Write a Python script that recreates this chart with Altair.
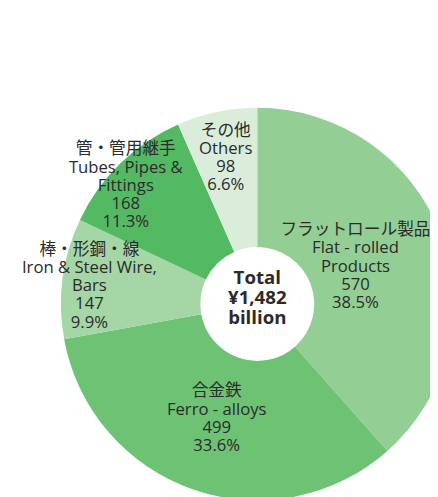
import altair as alt
import pandas as pd

# ---- data ----
categories = ["flat", "ferro", "bars", "tubes", "others"]
names_ja = ["フラットロール製品", "合金鉄", "棒・形鋼・線", "管・管用継手", "その他"]
names_en = ["Flat - rolled\nProducts", "Ferro - alloys", "Iron & Steel Wire,\nBars",
            "Tubes, Pipes &\nFittings", "Others"]
values = [570, 499, 147, 168, 98]
percents = ["38.5%", "33.6%", "9.9%", "11.3%", "6.6%"]

# ---- style ----
colors = ["#93CF95", "#6DC274", "#A5D6A5", "#54B963", "#DAEDDA"]
# label placement: (radius px, angle nudge in degrees)
label_pos = {"flat": (107, 0), "ferro": (124, 0.4), "bars": (172, -1.5),
             "tubes": (180, -3.9), "others": (152, -0.3)}
FONT = "Open Sans, Noto Sans CJK JP"
TEXT = "#2b2b2b"
FS = 17
LH = 18.6
CX, CY = 254, 297

df = pd.DataFrame({
    "cat": categories,
    "idx": list(range(len(categories))),
    "value": values,
    "label": [f"{j}\n{e}\n{v}\n{p}" for j, e, v, p in zip(names_ja, names_en, values, percents)],
})

total = sum(values)
center_df = pd.DataFrame({"t": [f"Total\n¥{total:,}\nbillion"]})

color = alt.Color("cat:N", scale=alt.Scale(domain=categories, range=colors), legend=None)

arcs = alt.Chart(df).mark_arc(outerRadius=200, innerRadius=58).encode(
    theta=alt.Theta("value:Q", stack=True),
    color=color,
    order=alt.Order("idx:Q"),
    x=alt.value(CX), y=alt.value(CY),
)

r_expr = " : ".join(f"datum.cat == '{k}' ? {v[0]}" for k, v in label_pos.items()) + " : 120"
n_expr = " : ".join(f"datum.cat == '{k}' ? {v[1]}" for k, v in label_pos.items()) + " : 0"

labels = alt.Chart(df).transform_joinaggregate(
    tot="sum(value)"
).transform_window(
    cum="sum(value)", sort=[alt.SortField("idx")], frame=[None, 0]
).transform_calculate(
    lines="split(datum.label, '\\n')",
    lr=r_expr,
    nudge=n_expr,
).transform_calculate(
    ang="(datum.cum - datum.value / 2) / datum.tot * 2 * PI + datum.nudge * PI / 180",
).transform_calculate(
    px=f"{CX} + datum.lr * sin(datum.ang)",
    py=f"{CY} - datum.lr * cos(datum.ang) - (length(datum.lines) - 1) / 2 * {LH}",
).mark_text(
    font=FONT, fontSize=FS, lineHeight=LH, color=TEXT,
    align="center", baseline="middle",
).encode(
    x=alt.X("px:Q", scale=None),
    y=alt.Y("py:Q", scale=None),
    text="lines:N",
)

center = alt.Chart(center_df).transform_calculate(
    lines="split(datum.t, '\\n')"
).mark_text(
    font=FONT, fontSize=19, fontWeight="bold", lineHeight=20.5, color=TEXT,
    align="center", baseline="middle",
).encode(
    text="lines:N", x=alt.value(CX), y=alt.value(CY - 6 - 20.5),
)

chart = alt.layer(arcs, labels, center).properties(
    width=430, height=489,
    autosize=alt.AutoSizeParams(type="none"),
    padding=0,
).configure_view(stroke=None)

chart.save("out.html", embed_options={"renderer": "svg", "actions": False})
